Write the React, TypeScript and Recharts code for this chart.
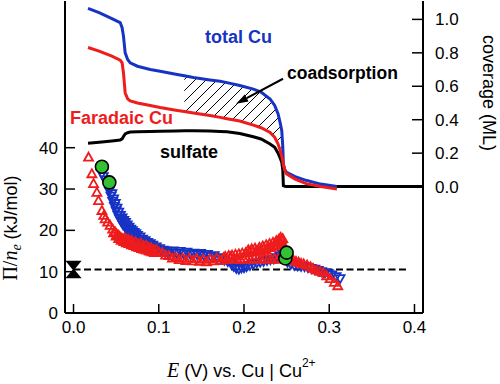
import React from "react";
import {
  ComposedChart,
  Line,
  Area,
  Scatter,
  XAxis,
  YAxis,
  ReferenceLine,
} from "recharts";

const FONT = '"Liberation Sans", Arial, Helvetica, sans-serif';
const SERIF = '"Liberation Serif", "Times New Roman", serif';
const BLUE = "#1733c4";
const RED = "#ee1c1c";
const GREEN = "#33c233";

// coverage curves (right axis, ML)
const coverageE = [0.017, 0.03, 0.045, 0.0547, 0.057, 0.0586, 0.0606, 0.0635, 0.0665, 0.075, 0.09, 0.1016, 0.12, 0.13, 0.1407, 0.16, 0.172, 0.18, 0.195, 0.211, 0.22, 0.2306, 0.236, 0.24, 0.2425, 0.2443, 0.2455, 0.2462, 0.248, 0.25, 0.26, 0.2736, 0.29, 0.309, 0.35, 0.41];
const totalCu = [1.066, 1.04, 1.005, 0.981, 0.95, 0.9, 0.8, 0.76, 0.74, 0.72, 0.7, 0.69, 0.672, 0.663, 0.652, 0.638, 0.63, 0.622, 0.605, 0.583, 0.565, 0.524, 0.485, 0.434, 0.38, 0.334, 0.24, 0.135, 0.1, 0.085, 0.06, 0.036, 0.015, 0.0, null, null];
const faradaicCu = [0.832, 0.81, 0.78, 0.756, 0.74, 0.68, 0.56, 0.525, 0.513, 0.5, 0.485, 0.473, 0.457, 0.449, 0.44, 0.425, 0.414, 0.406, 0.392, 0.368, 0.352, 0.324, 0.295, 0.255, 0.215, 0.18, 0.155, 0.13, 0.095, 0.076, 0.045, 0.016, 0.0, -0.014, null, null];
const sulfate = [0.259, 0.265, 0.273, 0.279, 0.285, 0.3, 0.315, 0.322, 0.326, 0.328, 0.33, 0.331, 0.333, 0.334, 0.334, 0.333, 0.33, 0.328, 0.318, 0.298, 0.285, 0.255, 0.235, 0.2, 0.17, 0.145, 0.1, 0.005, 0.002, 0.0, 0.0, 0.0, 0.0, 0.0, 0.0, 0.0];
const hatchFrom = 0.13;
const hatchTo = 0.2462;

// Pi / n_e (left axis, kJ/mol)
const totalPts = [
  [0.0333, 33.7], [0.035, 33.0], [0.037, 32.2], [0.039, 31.6], [0.041, 31.0], [0.043, 30.2], [0.045, 28.9], [0.047, 27.6],
  [0.049, 26.5], [0.051, 25.4], [0.053, 24.4], [0.055, 23.6], [0.057, 23.0], [0.059, 22.4], [0.061, 21.9], [0.063, 21.3],
  [0.065, 20.8], [0.067, 20.3], [0.069, 19.9], [0.071, 19.5], [0.073, 19.2], [0.075, 18.8], [0.078, 18.4], [0.081, 17.9],
  [0.084, 17.5], [0.087, 17.1], [0.09, 16.8], [0.093, 16.4], [0.097, 16.0], [0.101, 15.6], [0.105, 15.2], [0.109, 15.0],
  [0.113, 14.6], [0.117, 15.0], [0.121, 14.5], [0.125, 14.9], [0.129, 14.3], [0.133, 14.7], [0.137, 14.2], [0.141, 14.5],
  [0.145, 14.1], [0.149, 14.4], [0.153, 13.9], [0.157, 14.2], [0.161, 13.7], [0.165, 13.9], [0.169, 13.4], [0.173, 13.2],
  [0.177, 12.8], [0.181, 12.4], [0.185, 11.9], [0.188, 11.3], [0.191, 10.8], [0.194, 10.6], [0.197, 10.9], [0.2, 11.0],
  [0.203, 11.2], [0.207, 11.5], [0.211, 11.8], [0.215, 12.1], [0.219, 12.3], [0.223, 12.5], [0.227, 12.7], [0.231, 12.9],
  [0.235, 13.1], [0.239, 13.4], [0.242, 13.8], [0.245, 14.3], [0.248, 13.2], [0.251, 12.3], [0.255, 11.8], [0.259, 11.5],
  [0.263, 11.4], [0.267, 11.3], [0.271, 11.2], [0.275, 11.0], [0.279, 10.8], [0.283, 10.6], [0.287, 10.3], [0.291, 10.0],
  [0.295, 9.7], [0.299, 9.5], [0.303, 9.2], [0.308, 8.8], [0.3127, 8.3],
  [0.042, 29.5], [0.044, 28.3], [0.046, 27.0], [0.048, 25.8], [0.05, 24.7], [0.052, 23.7], [0.054, 22.8], [0.056, 22.1],
  [0.058, 21.4], [0.06, 20.9], [0.062, 20.4], [0.064, 19.9], [0.066, 19.5], [0.068, 19.1], [0.07, 18.8], [0.073, 18.3],
  [0.076, 17.9], [0.079, 17.5], [0.082, 17.1], [0.085, 16.7], [0.088, 16.4], [0.091, 16.0], [0.095, 15.6], [0.099, 15.3],
  [0.103, 15.0], [0.107, 14.7], [0.111, 14.4],
];
const faradaicPts = [
  [0.0176, 37.7], [0.0215, 33.7], [0.0235, 31.3], [0.0274, 29.2], [0.0293, 27.2], [0.0333, 24.8], [0.0355, 23.6], [0.0372, 22.8],
  [0.04, 22.0], [0.043, 21.2], [0.046, 20.3], [0.049, 19.6], [0.051, 19.0], [0.053, 18.8], [0.0555, 18.3], [0.058, 18.0],
  [0.06, 18.2], [0.062, 17.6], [0.064, 17.9], [0.066, 17.4], [0.068, 17.6], [0.07, 17.1], [0.073, 17.2], [0.076, 16.7],
  [0.079, 16.9], [0.082, 16.3], [0.085, 16.4], [0.088, 15.9], [0.091, 15.8], [0.094, 15.3], [0.097, 15.4], [0.1, 14.8],
  [0.104, 14.6], [0.108, 14.0], [0.112, 13.9], [0.116, 13.3], [0.12, 13.5], [0.124, 12.9], [0.128, 13.3], [0.132, 12.7],
  [0.136, 13.2], [0.14, 12.6], [0.144, 13.2], [0.148, 12.5], [0.152, 13.0], [0.156, 12.4], [0.16, 13.1], [0.164, 12.6],
  [0.168, 13.3], [0.172, 12.7], [0.176, 13.4], [0.18, 12.9], [0.184, 13.6], [0.188, 13.1], [0.192, 13.0], [0.196, 12.9],
  [0.2, 13.1], [0.204, 13.0], [0.208, 13.0], [0.212, 13.2], [0.216, 13.1], [0.22, 13.0], [0.224, 13.2], [0.228, 13.1],
  [0.232, 13.0], [0.236, 13.2], [0.24, 13.0],
  [0.047, 19.4], [0.05, 18.6], [0.053, 18.0], [0.056, 17.6], [0.059, 17.3], [0.062, 17.0], [0.065, 16.8], [0.068, 16.5],
  [0.071, 16.3], [0.074, 16.0], [0.077, 15.8], [0.08, 15.6], [0.083, 15.4], [0.086, 15.2], [0.089, 15.0], [0.092, 14.8],
  [0.095, 14.6],
  [0.178, 13.7], [0.182, 13.9], [0.186, 14.0], [0.19, 14.2], [0.194, 14.3], [0.198, 14.5], [0.202, 14.6], [0.206, 14.8],
  [0.21, 14.9], [0.214, 15.0], [0.217, 15.2], [0.22, 15.0], [0.223, 15.5], [0.226, 15.3], [0.229, 15.8], [0.232, 15.9],
  [0.235, 16.2], [0.238, 16.5], [0.24, 16.9], [0.242, 17.3], [0.244, 17.7], [0.2455, 18.0], [0.246, 16.5], [0.247, 15.0],
  [0.205, 15.3], [0.209, 15.5], [0.213, 15.7], [0.218, 15.9], [0.222, 16.2], [0.226, 16.5], [0.23, 16.8], [0.234, 17.1],
  [0.238, 17.5], [0.241, 17.9], [0.243, 18.3],
  [0.248, 14.0], [0.25, 13.6], [0.252, 13.3], [0.255, 13.0], [0.258, 12.8], [0.261, 12.5], [0.264, 12.3], [0.267, 12.0],
  [0.27, 11.9], [0.274, 11.6], [0.278, 11.2], [0.281, 10.8], [0.285, 10.4], [0.289, 10.1], [0.293, 9.8], [0.297, 9.0],
  [0.301, 8.3], [0.306, 7.4], [0.31, 6.6],
];
const greenPts = [[0.0333, 35.4], [0.042, 31.6], [0.2485, 13.2], [0.25, 14.6]];
const refLevel = [[0.0, 10.5], [0.39, 10.5]];
const refError = [[0.0, 10.5]];
const arrowFrom = { e: 0.2458, c: 0.645 };
const arrowTo = { e: 0.1907, c: 0.496 };

const xTicks = [0, 0.1, 0.2, 0.3, 0.4];
const leftTicks = [0, 10, 20, 30, 40];
const rightTicks = [0, 0.2, 0.4, 0.6, 0.8, 1.0];

const coverageData = coverageE.map((e, i) => ({
  e,
  total: totalCu[i],
  faradaic: faradaicCu[i],
  sulfate: sulfate[i],
}));
const hatchData = coverageData
  .filter((d) => d.e >= hatchFrom && d.e <= hatchTo)
  .map((d) => ({ e: d.e, band: [d.faradaic, d.total] }));
const toPts = (arr) => arr.map(([e, v]) => ({ e, v }));

const UpTri = (p) => {
  const { cx, cy } = p;
  if (cx == null || cy == null) return null;
  return <path d={`M${cx},${cy - 4.5} L${cx + 4.5},${cy + 3.5} L${cx - 4.5},${cy + 3.5} Z`} fill="none" stroke={RED} strokeWidth={1.8} />;
};
const DownTri = (p) => {
  const { cx, cy } = p;
  if (cx == null || cy == null) return null;
  return <path d={`M${cx - 4.5},${cy - 3.5} L${cx + 4.5},${cy - 3.5} L${cx},${cy + 4.5} Z`} fill="none" stroke={BLUE} strokeWidth={1.8} />;
};
const Dot = (p) => {
  const { cx, cy } = p;
  if (cx == null || cy == null) return null;
  return <circle cx={cx} cy={cy} r={6.5} fill={GREEN} stroke="#000" strokeWidth={1.6} />;
};
const Bowtie = (p) => {
  const { cx, cy } = p;
  if (cx == null || cy == null) return null;
  return (
    <path
      d={`M${cx - 6.5},${cy - 8} L${cx + 6.5},${cy - 8} L${cx},${cy} Z M${cx - 6.5},${cy + 8} L${cx + 6.5},${cy + 8} L${cx},${cy} Z`}
      fill="#000"
      stroke="#000"
      strokeWidth={1.5}
    />
  );
};
const Arrow = (p) => {
  const { x1, y1, x2, y2 } = p;
  if (x1 == null) return null;
  const dx = x2 - x1;
  const dy = y2 - y1;
  const len = Math.sqrt(dx * dx + dy * dy);
  const ux = dx / len;
  const uy = dy / len;
  const bx = x2 - ux * 12;
  const by = y2 - uy * 12;
  return (
    <g>
      <line x1={x1} y1={y1} x2={bx} y2={by} stroke="#000" strokeWidth={2} />
      <path d={`M${x2},${y2} L${bx - uy * 4},${by + ux * 4} L${bx + uy * 4},${by - ux * 4} Z`} fill="#000" />
    </g>
  );
};

const tickStyle = { fill: "#000", fontSize: 17, fontFamily: FONT };
const axisLine = { stroke: "#000", strokeWidth: 2 };
const tickLine = { stroke: "#000", strokeWidth: 1.5 };

export default function App() {
  return (
    <div style={{ position: "absolute", left: 0, top: 0, width: 500, height: 384, background: "#fff" }}>
      <ComposedChart width={500} height={384} margin={{ top: 1, right: 0, bottom: 0, left: 0 }}>
        <defs>
          <pattern id="hatch" patternUnits="userSpaceOnUse" width="11" height="11">
            <path d="M0,11 L11,0 M-3,3 L3,-3 M8,14 L14,8" stroke="#000" strokeWidth={1} />
          </pattern>
        </defs>
        <XAxis
          xAxisId="b"
          type="number"
          dataKey="e"
          domain={[-0.01, 0.41]}
          ticks={xTicks}
          tickFormatter={(v) => v.toFixed(1)}
          allowDataOverflow
          height={71}
          tickSize={-9}
          tickMargin={17}
          tick={tickStyle}
          axisLine={axisLine}
          tickLine={tickLine}
        />
        <XAxis
          xAxisId="t"
          orientation="top"
          type="number"
          dataKey="e"
          domain={[-0.01, 0.41]}
          ticks={xTicks}
          allowDataOverflow
          height={0}
          tickSize={-10}
          tick={false}
          axisLine={axisLine}
          tickLine={tickLine}
        />
        <YAxis
          yAxisId="l"
          type="number"
          dataKey="v"
          domain={[0, 75.5]}
          ticks={leftTicks}
          allowDataOverflow
          width={65}
          tickSize={-10}
          tickMargin={17}
          tick={tickStyle}
          axisLine={axisLine}
          tickLine={tickLine}
        />
        <YAxis
          yAxisId="r"
          orientation="right"
          type="number"
          domain={[-0.756, 1.11]}
          ticks={rightTicks}
          tickFormatter={(v) => v.toFixed(1)}
          allowDataOverflow
          width={77}
          tickSize={-11}
          tickMargin={23}
          tick={tickStyle}
          axisLine={axisLine}
          tickLine={tickLine}
        />

        <Area
          xAxisId="b"
          yAxisId="r"
          data={hatchData}
          dataKey="band"
          type="linear"
          stroke="none"
          fill="url(#hatch)"
          fillOpacity={1}
          isAnimationActive={false}
        />
        <Line xAxisId="b" yAxisId="r" data={coverageData} dataKey="sulfate" type="linear" stroke="#000" strokeWidth={3} dot={false} isAnimationActive={false} />
        <Line xAxisId="b" yAxisId="r" data={coverageData} dataKey="total" type="linear" stroke={BLUE} strokeWidth={3} dot={false} isAnimationActive={false} />
        <Line xAxisId="b" yAxisId="r" data={coverageData} dataKey="faradaic" type="linear" stroke={RED} strokeWidth={3} dot={false} isAnimationActive={false} />

        <Line xAxisId="b" yAxisId="l" data={toPts(refLevel)} dataKey="v" type="linear" stroke="#000" strokeWidth={2} strokeDasharray="7 3.5" dot={false} isAnimationActive={false} />
        <Scatter xAxisId="b" yAxisId="l" data={toPts(refError)} dataKey="v" shape={Bowtie} isAnimationActive={false} />
        <Scatter xAxisId="b" yAxisId="l" data={toPts(totalPts)} dataKey="v" shape={DownTri} isAnimationActive={false} />
        <Scatter xAxisId="b" yAxisId="l" data={toPts(faradaicPts)} dataKey="v" shape={UpTri} isAnimationActive={false} />
        <Scatter xAxisId="b" yAxisId="l" data={toPts(greenPts)} dataKey="v" shape={Dot} isAnimationActive={false} />

        <ReferenceLine
          xAxisId="b"
          yAxisId="r"
          segment={[{ x: arrowFrom.e, y: arrowFrom.c }, { x: arrowTo.e, y: arrowTo.c }]}
          shape={Arrow}
        />

        <text x={205} y={43} fontFamily={FONT} fontWeight="bold" fontSize={18} fill={BLUE}>total Cu</text>
        <text x={70} y={124} fontFamily={FONT} fontWeight="bold" fontSize={18} fill={RED}>Faradaic Cu</text>
        <text x={160} y={158} fontFamily={FONT} fontWeight="bold" fontSize={18} fill="#000">sulfate</text>
        <text x={287} y={79} fontFamily={FONT} fontWeight="bold" fontSize={17.5} fill="#000">coadsorption</text>

        <text transform="translate(17,228) rotate(-90)" textAnchor="middle" fontFamily={FONT} fontSize={18} fill="#000">
          <tspan fontFamily={SERIF} fontSize={20}>Π/</tspan>
          <tspan fontFamily={SERIF} fontStyle="italic" fontSize={20}>n</tspan>
          <tspan fontFamily={SERIF} fontStyle="italic" fontSize={14} dy={4}>e</tspan>
          <tspan dy={-4}> (kJ/mol)</tspan>
        </text>
        <text transform="translate(483,93) rotate(90)" textAnchor="middle" fontFamily={FONT} fontSize={18} fill="#000">
          coverage (ML)
        </text>
        <text x={167} y={377} fontFamily={FONT} fontSize={18} fill="#000">
          <tspan fontFamily={SERIF} fontStyle="italic" fontSize={20}>E</tspan>
          <tspan> (V) vs. Cu | Cu</tspan>
          <tspan fontSize={12} dy={-10}>2+</tspan>
        </text>
      </ComposedChart>
    </div>
  );
}
